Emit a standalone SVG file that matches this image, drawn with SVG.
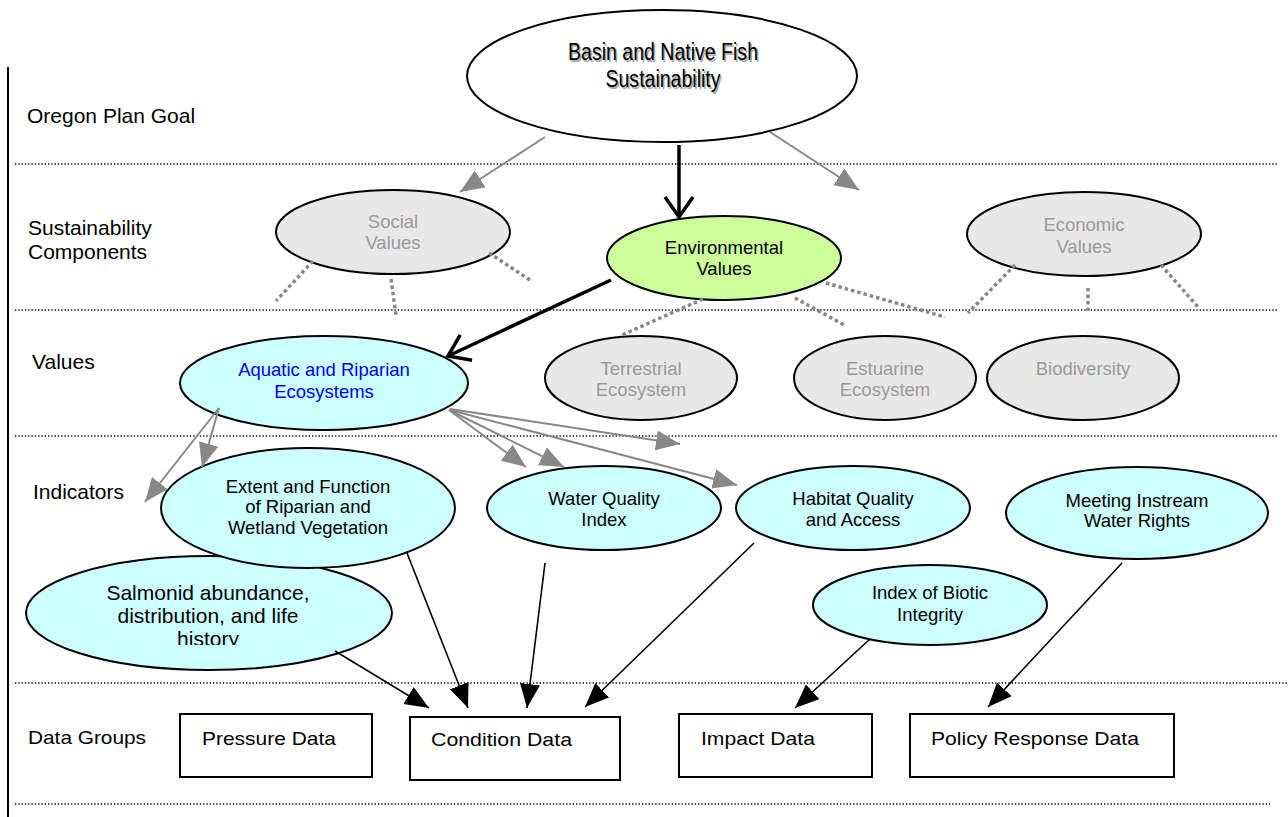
<svg xmlns="http://www.w3.org/2000/svg" width="1288" height="817" viewBox="0 0 1288 817">
<style>
text{font-family:"Liberation Sans",Arial,sans-serif;}
.lbl{font-size:21px;fill:#000;}
.t{font-size:18.5px;fill:#000;text-anchor:middle;}
.tg{font-size:18.5px;fill:#999;text-anchor:middle;}
.tb{font-size:18.5px;fill:#0000ff;text-anchor:middle;}
.sep{stroke:#000;stroke-width:1.3;stroke-dasharray:1.3 2;fill:none;}
.eg{fill:#e8e8e8;stroke:#000;stroke-width:2;}
.ec{fill:#ccffff;stroke:#000;stroke-width:2;}
.box{fill:#fff;stroke:#000;stroke-width:2;}
.gdot{stroke:#888;stroke-width:3.5;stroke-dasharray:3.5 3;fill:none;}
.garr{stroke:#888;stroke-width:2;fill:none;marker-end:url(#ag);}
.barr{stroke:#000;stroke-width:1.6;fill:none;marker-end:url(#ab);}
.thick{stroke:#000;stroke-width:3.5;fill:none;marker-end:url(#av);}
.bt{font-size:19px;fill:#000;}
</style>
<defs>
<marker id="ag" markerUnits="userSpaceOnUse" markerWidth="26" markerHeight="22" refX="24" refY="10" orient="auto" viewBox="0 0 26 22">
<path d="M0,0 L24,10 L0,20 Z" fill="#888"/>
</marker>
<marker id="ab" markerUnits="userSpaceOnUse" markerWidth="26" markerHeight="22" refX="24" refY="10" orient="auto" viewBox="0 0 26 22">
<path d="M0,0 L24,10 L0,20 Z" fill="#000"/>
</marker>
<marker id="av" markerUnits="userSpaceOnUse" markerWidth="30" markerHeight="34" refX="22" refY="16" orient="auto" viewBox="0 0 30 34">
<path d="M2,2 L22,16 L2,30" fill="none" stroke="#000" stroke-width="3.5"/>
</marker>
<clipPath id="salclip"><rect x="0" y="560" width="420" height="85"/></clipPath>
</defs>

<g id="frame">
<line x1="8" y1="67" x2="8" y2="817" stroke="#000" stroke-width="2"/>
<line class="sep" x1="15" y1="164" x2="1278" y2="164"/>
<line class="sep" x1="15" y1="310" x2="1278" y2="310"/>
<line class="sep" x1="15" y1="436" x2="1278" y2="436"/>
<line class="sep" x1="15" y1="683" x2="1288" y2="683"/>
<line class="sep" x1="15" y1="804" x2="1270" y2="804"/>
</g>

<g id="labels">
<text class="lbl" x="27" y="123">Oregon Plan Goal</text>
<text class="lbl" x="28" y="235">Sustainability</text>
<text class="lbl" x="28" y="259">Components</text>
<text class="lbl" x="32" y="369">Values</text>
<text class="lbl" x="33" y="499">Indicators</text>
<text class="bt" x="28" y="744" textLength="118" lengthAdjust="spacingAndGlyphs">Data Groups</text>
</g>

<g id="basin">
<ellipse cx="662" cy="76" rx="195" ry="66" fill="#fff" stroke="#000" stroke-width="2"/>
<g style="font-family:'Liberation Sans Narrow','Liberation Sans',Arial,sans-serif;font-size:23px;text-anchor:middle">
<text x="664.5" y="61.5" fill="#aaa" textLength="190" lengthAdjust="spacingAndGlyphs">Basin and Native Fish</text>
<text x="664.5" y="88.5" fill="#aaa" textLength="115" lengthAdjust="spacingAndGlyphs">Sustainability</text>
<text x="663" y="60" fill="#000" textLength="190" lengthAdjust="spacingAndGlyphs">Basin and Native Fish</text>
<text x="663" y="87" fill="#000" textLength="115" lengthAdjust="spacingAndGlyphs">Sustainability</text>
</g>
</g>

<g id="social">
<ellipse class="eg" cx="393" cy="232" rx="117" ry="42"/>
<text class="tg" x="393" y="228">Social</text>
<text class="tg" x="393" y="249">Values</text>
</g>

<g id="environmental">
<ellipse cx="724" cy="258" rx="117" ry="42" fill="#ccff99" stroke="#000" stroke-width="2"/>
<text class="t" x="724" y="254">Environmental</text>
<text class="t" x="724" y="275">Values</text>
</g>

<g id="economic">
<ellipse class="eg" cx="1084" cy="234" rx="117" ry="42"/>
<text class="tg" x="1084" y="231">Economic</text>
<text class="tg" x="1084" y="253">Values</text>
</g>

<g id="aquatic">
<ellipse class="ec" cx="324" cy="383" rx="144" ry="47"/>
<text class="tb" x="324" y="376">Aquatic and Riparian</text>
<text class="tb" x="324" y="398">Ecosystems</text>
</g>

<g id="terrestrial">
<ellipse class="eg" cx="641" cy="378" rx="96" ry="42"/>
<text class="tg" x="641" y="375">Terrestrial</text>
<text class="tg" x="641" y="396">Ecosystem</text>
</g>

<g id="estuarine">
<ellipse class="eg" cx="885" cy="378" rx="91" ry="42"/>
<text class="tg" x="885" y="375">Estuarine</text>
<text class="tg" x="885" y="396">Ecosystem</text>
</g>

<g id="biodiversity">
<ellipse class="eg" cx="1083" cy="378" rx="96" ry="42"/>
<text class="tg" x="1083" y="375">Biodiversity</text>
</g>

<g id="salmonid">
<ellipse class="ec" cx="209" cy="613" rx="183" ry="57"/>
<g style="font-size:21px;text-anchor:middle;fill:#000">
<text x="208" y="600">Salmonid abundance,</text>
<text x="208" y="623">distribution, and life</text>
<text x="208" y="646" clip-path="url(#salclip)">history</text>
</g>
</g>

<g id="extent">
<ellipse class="ec" cx="308" cy="508" rx="147" ry="60"/>
<text class="t" x="308" y="493">Extent and Function</text>
<text class="t" x="308" y="513">of Riparian and</text>
<text class="t" x="308" y="534">Wetland Vegetation</text>
</g>

<g id="waterquality">
<ellipse class="ec" cx="604" cy="508" rx="117" ry="42"/>
<text class="t" x="604" y="505">Water Quality</text>
<text class="t" x="604" y="526">Index</text>
</g>

<g id="habitat">
<ellipse class="ec" cx="853" cy="508" rx="117" ry="42"/>
<text class="t" x="853" y="505">Habitat Quality</text>
<text class="t" x="853" y="526">and Access</text>
</g>

<g id="meeting">
<ellipse class="ec" cx="1137" cy="513" rx="131" ry="46"/>
<text class="t" x="1137" y="507">Meeting Instream</text>
<text class="t" x="1137" y="527">Water Rights</text>
</g>

<g id="biotic">
<ellipse class="ec" cx="930" cy="605" rx="117" ry="40"/>
<text class="t" x="930" y="599">Index of Biotic</text>
<text class="t" x="930" y="621">Integrity</text>
</g>

<g id="pressure">
<rect class="box" x="180" y="714" width="192" height="63"/>
<text class="bt" x="202" y="745" textLength="134" lengthAdjust="spacingAndGlyphs">Pressure Data</text>
</g>
<g id="condition">
<rect class="box" x="410" y="717" width="210" height="63"/>
<text class="bt" x="431" y="746" textLength="141" lengthAdjust="spacingAndGlyphs">Condition Data</text>
</g>
<g id="impact">
<rect class="box" x="679" y="714" width="193" height="63"/>
<text class="bt" x="701" y="745" textLength="114" lengthAdjust="spacingAndGlyphs">Impact Data</text>
</g>
<g id="policy">
<rect class="box" x="910" y="714" width="264" height="63"/>
<text class="bt" x="931" y="745" textLength="208" lengthAdjust="spacingAndGlyphs">Policy Response Data</text>
</g>

<g id="connectors">
<line class="garr" x1="545" y1="137" x2="460" y2="192"/>
<line class="garr" x1="770" y1="132" x2="859" y2="190"/>
<line class="thick" x1="679" y1="145" x2="679" y2="217"/>
<line class="thick" x1="611" y1="280" x2="448" y2="356"/>
<line class="gdot" x1="313" y1="261" x2="276" y2="301"/>
<line class="gdot" x1="391" y1="279" x2="396" y2="315"/>
<line class="gdot" x1="489" y1="253" x2="530" y2="280"/>
<line class="gdot" x1="703" y1="299" x2="622" y2="335"/>
<line class="gdot" x1="795" y1="298" x2="846" y2="326"/>
<line class="gdot" x1="826" y1="283" x2="945" y2="317"/>
<line class="gdot" x1="1015" y1="265" x2="968" y2="313"/>
<line class="gdot" x1="1088" y1="288" x2="1088" y2="312"/>
<line class="gdot" x1="1161" y1="265" x2="1198" y2="307"/>
<line class="garr" x1="219" y1="408" x2="145" y2="502"/>
<line class="garr" x1="219" y1="408" x2="202" y2="467"/>
<line class="garr" x1="449" y1="410" x2="526" y2="467"/>
<line class="garr" x1="449" y1="410" x2="564" y2="467"/>
<line class="garr" x1="450" y1="409" x2="680" y2="444"/>
<line class="garr" x1="450" y1="410" x2="737" y2="485"/>
<line class="barr" x1="335" y1="651" x2="429" y2="708"/>
<line class="barr" x1="407" y1="553" x2="468" y2="708"/>
<line class="barr" x1="545" y1="563" x2="527" y2="708"/>
<line class="barr" x1="754" y1="543" x2="585" y2="707"/>
<line class="barr" x1="870" y1="639" x2="795" y2="708"/>
<line class="barr" x1="1122" y1="563" x2="988" y2="707"/>
</g>
</svg>
